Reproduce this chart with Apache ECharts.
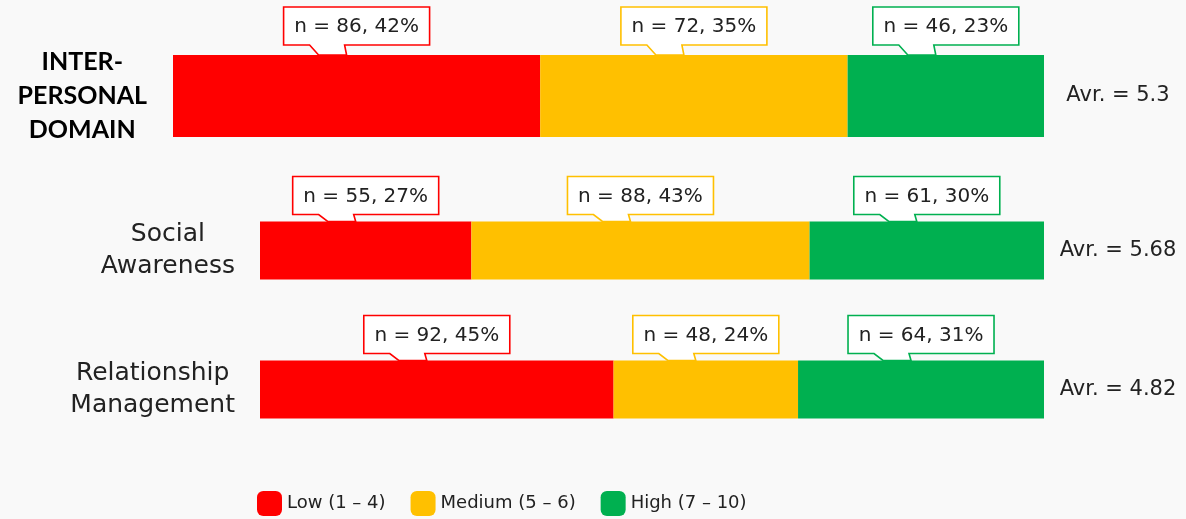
<!DOCTYPE html>
<html><head><meta charset="utf-8">
<script src="https://cdn.jsdelivr.net/npm/echarts/dist/echarts.min.js"></script>
<style>html,body{margin:0;padding:0;background:#f9f9f9}#c{width:1186px;height:519px}</style>
</head><body><div id="c"></div>
<script>
// ---- data ----
const domainCategories = ['INTER-\nPERSONAL\nDOMAIN'];
const subCategories = ['Social\nAwareness', 'Relationship\nManagement'];
const levelNames = ['Low (1 – 4)', 'Medium (5 – 6)', 'High (7 – 10)'];
const domainLow = [86];
const domainMedium = [72];
const domainHigh = [46];
const domainLowPct = [42];
const domainMediumPct = [35];
const domainHighPct = [23];
const subLow = [55, 92];
const subMedium = [88, 48];
const subHigh = [61, 64];
const subLowPct = [27, 45];
const subMediumPct = [43, 24];
const subHighPct = [30, 31];
const domainAvg = ['5.3'];
const subAvg = ['5.68', '4.82'];

// ---- styles ----
const colors = ['#FF0000', '#FFC000', '#00B050'];
const FONT = '"DejaVu Sans", sans-serif';
const total = domainLow[0] + domainMedium[0] + domainHigh[0];

function calloutData(levels, pcts) {
  const out = [];
  const n = levels[0].length;
  for (let i = 0; i < n; i++) {
    let start = 0;
    for (let k = 0; k < levels.length; k++) {
      out.push([start, i, levels[k][i], pcts[k][i], k]);
      start += levels[k][i];
    }
  }
  return out;
}

function makeRender(barW, gap) {
  return function (params, api) {
    const start = api.value(0), cat = api.value(1), val = api.value(2), pct = api.value(3), lvl = api.value(4);
    const p = api.coord([start + val / 2, cat]);
    const cx = p[0];
    const barTop = p[1] - barW / 2;
    const yb = barTop - gap, yt = yb - 38, hw = 73;
    const pts = [
      [cx - hw, yt], [cx + hw, yt], [cx + hw, yb], [cx - 12, yb],
      [cx - 10, barTop], [cx - 38, barTop], [cx - 47, yb], [cx - hw, yb]
    ];
    return {
      type: 'group',
      children: [
        { type: 'polygon', shape: { points: pts },
          style: { fill: '#ffffff', stroke: colors[lvl], lineWidth: 1.6 } },
        { type: 'text',
          style: { text: 'n = ' + val + ', ' + pct + '%', x: cx, y: (yt + yb) / 2 + 1,
                   align: 'center', verticalAlign: 'middle', fill: '#222',
                   fontSize: 20, fontFamily: FONT } }
      ]
    };
  };
}

const chart = echarts.init(document.getElementById('c'));
const hiddenAxis = { axisLine: { show: false }, axisTick: { show: false }, splitLine: { show: false } };

chart.setOption({
  animation: false,
  backgroundColor: '#f9f9f9',
  color: colors,
  legend: {
    data: levelNames, left: 257, top: 491, padding: 0, itemWidth: 25, itemHeight: 25, itemGap: 25,
    icon: 'roundRect',
    textStyle: { fontSize: 18, fontFamily: FONT, color: '#222' }
  },
  grid: [
    { left: 173, right: 142, top: 55, height: 82 },
    { left: 260, right: 142, top: 181, height: 278 }
  ],
  xAxis: [
    Object.assign({ type: 'value', gridIndex: 0, min: 0, max: total, show: false }, hiddenAxis),
    Object.assign({ type: 'value', gridIndex: 1, min: 0, max: total, show: false }, hiddenAxis)
  ],
  yAxis: [
    Object.assign({
      type: 'category', gridIndex: 0, data: domainCategories, inverse: true,
      axisLabel: { margin: 26, formatter: v => '{h|' + v + '}',
        rich: { h: { align: 'center', fontFamily: 'Lato, sans-serif', fontWeight: 'bold',
                     fontSize: 25, lineHeight: 34, color: '#000' } } }
    }, hiddenAxis),
    Object.assign({
      type: 'category', gridIndex: 0, data: domainAvg, inverse: true, position: 'right',
      axisLabel: { margin: 74, align: 'center', formatter: v => 'Avr. = ' + v,
        fontSize: 21, fontFamily: FONT, color: '#222' }
    }, hiddenAxis),
    Object.assign({
      type: 'category', gridIndex: 1, data: subCategories, inverse: true,
      axisLabel: { margin: 25, formatter: v => '{s|' + v + '}',
        rich: { s: { align: 'center', fontFamily: FONT, fontSize: 25, lineHeight: 32, color: '#222' } } }
    }, hiddenAxis),
    Object.assign({
      type: 'category', gridIndex: 1, data: subAvg, inverse: true, position: 'right',
      axisLabel: { margin: 74, align: 'center', formatter: v => 'Avr. = ' + v,
        fontSize: 21, fontFamily: FONT, color: '#222' }
    }, hiddenAxis)
  ],
  series: [
    { name: levelNames[0], type: 'bar', stack: 'd', xAxisIndex: 0, yAxisIndex: 0, barWidth: 82, data: domainLow },
    { name: levelNames[1], type: 'bar', stack: 'd', xAxisIndex: 0, yAxisIndex: 0, barWidth: 82, data: domainMedium },
    { name: levelNames[2], type: 'bar', stack: 'd', xAxisIndex: 0, yAxisIndex: 0, barWidth: 82, data: domainHigh },
    { name: levelNames[0], type: 'bar', stack: 's', xAxisIndex: 1, yAxisIndex: 2, barWidth: 58, data: subLow },
    { name: levelNames[1], type: 'bar', stack: 's', xAxisIndex: 1, yAxisIndex: 2, barWidth: 58, data: subMedium },
    { name: levelNames[2], type: 'bar', stack: 's', xAxisIndex: 1, yAxisIndex: 2, barWidth: 58, data: subHigh },
    { type: 'custom', xAxisIndex: 0, yAxisIndex: 0, z: 10, silent: true,
      encode: { x: 0, y: 1 },
      renderItem: makeRender(82, 10),
      data: calloutData([domainLow, domainMedium, domainHigh], [domainLowPct, domainMediumPct, domainHighPct]) },
    { type: 'custom', xAxisIndex: 1, yAxisIndex: 2, z: 10, silent: true,
      encode: { x: 0, y: 1 },
      renderItem: makeRender(58, 7),
      data: calloutData([subLow, subMedium, subHigh], [subLowPct, subMediumPct, subHighPct]) }
  ]
});
</script>
</body></html>
